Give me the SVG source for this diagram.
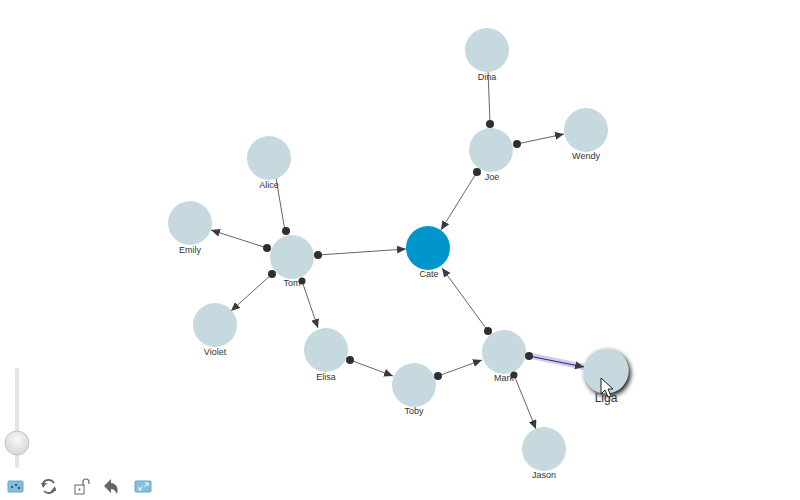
<svg xmlns="http://www.w3.org/2000/svg" width="800" height="500" viewBox="0 0 800 500">
<style>
text{font-family:"Liberation Sans",Arial,sans-serif;font-size:9px;fill:#333;text-anchor:middle}
.n{fill:#c6d9df}
.l{stroke:#555;stroke-width:.9;fill:none}
.a{stroke:#555;stroke-width:.9;fill:none;marker-end:url(#arrow)}
.d{fill:#2f2f33}
.ic{fill:#86bede;stroke:#6aa3c4;stroke-width:1}
</style>
<defs>
<marker id="arrow" markerUnits="userSpaceOnUse" markerWidth="12" markerHeight="10" refX="9" refY="4" orient="auto"><path d="M0 0L9 4L0 8Z" fill="#3a3a3e"/></marker>
<radialGradient id="knob" cx="50%" cy="35%" r="65%"><stop offset="0" stop-color="#f8f8f8"/><stop offset="1" stop-color="#d6d6d6"/></radialGradient>
<filter id="sh" x="-40%" y="-40%" width="190%" height="190%"><feDropShadow dx="2" dy="2.500" stdDeviation="2.500" flood-color="#000" flood-opacity=".95"/></filter>
</defs>
<g id="connectors">
<path class="l" d="M488 70L490 124"/>
<path class="a" d="M517 144L564 134"/>
<path class="a" d="M477 172L441 230"/>
<path class="l" d="M276 178L285 231"/>
<path class="a" d="M267 248L211 230"/>
<path class="a" d="M318 255L406 249"/>
<path class="a" d="M272 274L231 311"/>
<path class="a" d="M302 281L318 328"/>
<path class="a" d="M350 360L393 376"/>
<path class="a" d="M438 376L482 360"/>
<path class="a" d="M488 331L442 268"/>
<path d="M527 355L584 367" stroke="#cfcaf6" stroke-width="6" fill="none"/>
<path d="M529 356L584 367" stroke="#2f2f58" stroke-width="1.200" fill="none" marker-end="url(#arrow)"/>
<path class="a" d="M514 375L536 429"/>
</g>
<g id="dina"><circle class="n" cx="487" cy="50" r="22"/><text x="487" y="80">Dina</text></g>
<g id="joe"><circle class="n" cx="491" cy="150" r="22"/><text x="492" y="180">Joe</text><circle class="d" cx="490" cy="124" r="4"/><circle class="d" cx="517" cy="144" r="4"/><circle class="d" cx="477" cy="172" r="4"/></g>
<g id="wendy"><circle class="n" cx="586" cy="130" r="22"/><text x="586" y="159">Wendy</text></g>
<g id="alice"><circle class="n" cx="269" cy="158" r="22"/><text x="269" y="188">Alice</text></g>
<g id="emily"><circle class="n" cx="190" cy="223" r="22"/><text x="190" y="253">Emily</text></g>
<g id="tom"><circle class="n" cx="292" cy="257" r="22"/><circle class="d" cx="286" cy="231" r="4"/><circle class="d" cx="267" cy="248" r="4"/><circle class="d" cx="318" cy="255" r="4"/><circle class="d" cx="272" cy="274" r="4"/><circle class="d" cx="302" cy="281" r="3.500"/><text x="292" y="286">Tom</text></g>
<g id="violet"><circle class="n" cx="215" cy="325" r="22"/><text x="215" y="355">Violet</text></g>
<g id="elisa"><circle class="n" cx="326" cy="350" r="22"/><circle class="d" cx="350" cy="360" r="4"/><text x="326" y="380">Elisa</text></g>
<g id="toby"><circle class="n" cx="414" cy="385" r="22"/><circle class="d" cx="438" cy="376" r="4"/><text x="414" y="414">Toby</text></g>
<g id="mark"><circle class="n" cx="504" cy="352" r="22"/><circle class="d" cx="488" cy="331" r="4"/><circle class="d" cx="529" cy="356" r="4"/><circle class="d" cx="514" cy="375" r="3.500"/><text x="504" y="381">Mark</text></g>
<g id="liga"><circle class="n" cx="606" cy="371" r="22.500" filter="url(#sh)"/><text x="606" y="402" style="font-size:12px">Liga</text></g>
<g id="jason"><circle class="n" cx="544" cy="449" r="22"/><text x="544" y="478">Jason</text></g>
<g id="cate"><circle cx="428" cy="248" r="22" fill="#0095cc"/><text x="429" y="277">Cate</text></g>
<path id="cursor" d="M601 378L601 394L605 390L608 397L611 396L608 389L613 389Z" fill="#fff" stroke="#222"/>
<g id="controls">
<rect x="15" y="368" width="4" height="100" rx="2" fill="#e4e4e4"/>
<circle cx="17" cy="443" r="12" fill="url(#knob)" stroke="#c4c4c4"/>
<rect class="ic" x="8" y="481" width="15" height="11" rx="1"/>
<circle cx="12" cy="487" r="1.300" fill="#35607a"/><circle cx="16" cy="485" r="1.300" fill="#35607a"/><circle cx="19" cy="488" r="1.300" fill="#35607a"/>
<path d="M43 483A6.500 6.500 0 0 1 54 483M55 488A6.500 6.500 0 0 1 44 491" fill="none" stroke="#666" stroke-width="1.800"/>
<path d="M41 483L47 483L43 488ZM56 491L51 491L55 486Z" fill="#666"/>
<rect x="75" y="485" width="9" height="9" fill="#fff" stroke="#666"/>
<circle cx="79.500" cy="489.500" r="1" fill="#555"/>
<path d="M83 485V482A3 3 0 0 1 89 482V484" fill="none" stroke="#666" stroke-width="1.200"/>
<path d="M104 486L111 479V483C116 483 119 488 117 494C115 490 113 489 111 489V493Z" fill="#666"/>
<rect class="ic" x="135" y="481" width="16" height="11" rx="1"/>
<path d="M139 490L143 486M139 487V490H142M148 483L144 487M148 486V483H145" stroke="#fff" fill="none"/>
</g>
</svg>
